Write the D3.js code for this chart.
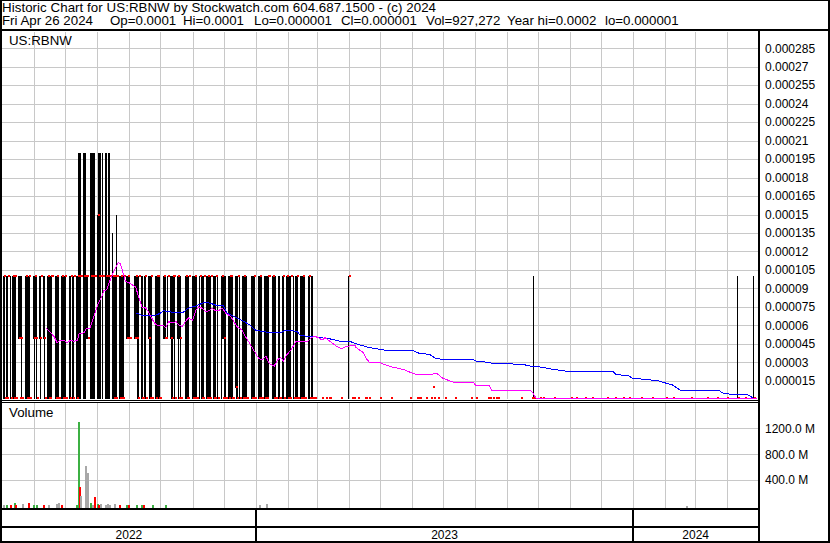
<!DOCTYPE html>
<html><head><meta charset="utf-8">
<script src="https://cdn.jsdelivr.net/npm/d3@7"></script>
<style>
body{margin:0;background:#fff}
svg{display:block}
text{font-family:Arial,"Liberation Sans",sans-serif;fill:#000}
</style></head>
<body><svg id="chart" width="830" height="543"></svg>
<script>
// ---------------- data ----------------
const titleLine = "Historic Chart for US:RBNW by Stockwatch.com 604.687.1500 - (c) 2024";
const quoteFields = ["Fri Apr 26 2024","Op=0.0001","Hi=0.0001","Lo=0.000001","Cl=0.000001","Vol=927,272","Year hi=0.0002","lo=0.000001"];
const symbolLabel = "US:RBNW";
const volumeLabel = "Volume";
const priceTicks = [0.000015,0.00003,0.000045,0.00006,0.000075,0.00009,0.000105,0.00012,0.000135,0.00015,0.000165,0.00018,0.000195,0.00021,0.000225,0.00024,0.000255,0.00027,0.000285];
const priceTickLabels = ["0.000015","0.00003","0.000045","0.00006","0.000075","0.00009","0.000105","0.00012","0.000135","0.00015","0.000165","0.00018","0.000195","0.00021","0.000225","0.00024","0.000255","0.00027","0.000285"];
const volumeTicks = [400e6,800e6,1200e6];
const volumeTickLabels = ["400.0 M","800.0 M","1200.0 M"];
const yearLabels = ["2022","2023","2024"];
const yearStarts = ["2022-05-01","2023-01-01","2024-01-01","2024-05-01"];

// daily bars, May 2 2022 .. Feb 24 2023, one row per week (Mon..Fri), prices in millionths, null = no trade
const firstMonday = "2022-05-02";
const weekHi = [
[100,100,null,100,100],[100,100,100,100,100],[100,100,100,100,null],[100,100,100,100,100],[null,100,100,100,100],
[100,100,null,100,100],[100,100,100,100,100],[null,100,100,100,100],[100,100,100,100,100],[null,100,100,100,100],
[100,100,200,200,200],[200,200,200,100,100],[200,200,200,200,200],[150,200,200,200,200],[200,200,100,200,200],
[135,100,100,100,150],[100,100,100,100,100],[100,100,100,100,null],[100,100,100,100,100],[100,100,null,100,100],
[100,100,100,100,null],[100,100,100,100,100],[100,100,100,null,100],[100,100,100,100,100],[100,100,100,100,null],
[null,100,100,100,100],[100,100,100,100,100],[100,null,100,100,100],[100,100,100,100,100],[100,100,100,null,100],
[100,100,100,100,100],[100,100,100,100,100],[100,100,100,null,100],[100,100,100,100,100],[null,100,100,100,100],
[null,100,100,100,100],[100,100,100,100,100],[null,100,100,100,100],[100,100,null,100,100],[100,100,100,100,100],
[100,null,100,100,100],[100,100,100,100,100],[null,100,100,100,100]
];
const weekLo = [
[1,1,null,1,1],[1,1,1,1,1],[50,50,50,1,null],[1,1,1,1,1],[null,50,1,50,1],
[50,1,null,50,1],[1,1,1,1,1],[null,1,1,1,1],[1,1,1,1,1],[null,1,1,1,1],
[1,1,1,1,1],[1,1,1,50,50],[1,1,1,1,1],[1,1,1,1,1],[1,1,1,1,1],
[1,1,1,1,1],[1,1,1,1,1],[50,50,50,50,null],[50,50,50,1,1],[1,1,null,1,1],
[50,1,1,1,null],[1,1,1,1,1],[50,50,50,null,50],[50,1,1,50,1],[50,1,50,1,null],
[null,1,1,1,1],[1,1,1,1,1],[1,null,1,1,1],[1,1,1,1,1],[1,1,1,null,1],
[1,50,50,1,1],[1,1,1,1,1],[10,1,1,null,1],[1,1,1,1,1],[null,1,1,1,1],
[null,1,1,1,1],[1,1,1,1,1],[null,1,1,1,1],[1,1,null,1,1],[1,1,1,1,1],
[1,null,1,1,1],[1,1,1,1,1],[null,1,1,1,1]
];
const weekClose = [
[100,1,null,1,100],[1,100,1,100,1],[50,1,50,1,null],[100,1,1,100,1],[null,50,100,50,1],
[50,100,null,50,1],[100,1,1,100,100],[null,1,100,1,1],[100,1,1,100,1],[null,1,100,1,100],
[1,100,100,100,100],[100,100,100,100,50],[100,100,100,100,100],[150,100,100,100,100],[100,100,100,100,100],
[100,1,100,1,100],[1,100,1,1,100],[50,100,50,50,null],[50,100,50,1,100],[1,1,null,100,1],
[50,1,100,1,null],[1,100,100,1,1],[100,50,50,null,100],[50,1,100,100,1],[100,1,50,1,null],
[null,100,1,1,100],[1,1,100,1,1],[100,null,1,1,100],[1,100,1,1,100],[1,1,100,null,1],
[100,1,50,1,1],[1,100,100,1,1],[10,1,100,null,1],[1,100,1,1,1],[null,1,1,100,1],
[null,1,100,1,1],[1,1,1,100,100],[null,100,1,1,1],[1,1,null,100,1],[100,1,1,1,100],
[1,null,1,100,1],[1,1,100,1,1],[null,100,1,1,1]
];

// later, scattered trades (prices in millionths)
const laterDates = ["2023-02-27","2023-03-06","2023-03-10","2023-03-13","2023-03-14","2023-03-24","2023-03-31","2023-04-04","2023-04-06","2023-04-10","2023-04-17","2023-04-18","2023-04-21","2023-05-01","2023-05-12","2023-05-30","2023-06-06","2023-06-08","2023-06-09","2023-06-15","2023-06-19","2023-06-21","2023-06-22","2023-06-26","2023-07-03","2023-07-13","2023-07-28","2023-08-02","2023-08-14","2023-08-15","2023-08-18","2023-08-21","2023-08-23","2023-09-14","2023-09-25","2023-09-26","2023-10-03","2023-10-06","2023-10-16","2023-11-02","2023-11-07","2023-11-15","2023-11-22","2023-12-07","2023-12-14","2023-12-22","2023-12-28","2024-01-08","2024-01-19","2024-02-02","2024-02-08","2024-02-26","2024-03-12","2024-03-22","2024-04-01","2024-04-10","2024-04-18","2024-04-26"];
const laterHi =    [1,1,1,1,1,1,100,1,1,1,1,1,1,1,1,1,1,1,1,1,1,10,1,1,1,1,1,1,1,1,1,1,1,1,1,100,1,1,1,1,1,1,1,1,1,1,1,1,1,1,1,1,1,1,1,100,1,100];
const laterLo =    [1,1,1,1,1,1,1,1,1,1,1,1,1,1,1,1,1,1,1,1,1,10,1,1,1,1,1,1,1,1,1,1,1,1,1,1,1,1,1,1,1,1,1,1,1,1,1,1,1,1,1,1,1,1,1,1,1,1];
const laterClose = [1,1,1,1,1,1,100,1,1,1,1,1,1,1,1,1,1,1,1,1,1,10,1,1,1,1,1,1,1,1,1,1,1,1,1,1,1,1,1,1,1,1,1,1,1,1,1,1,1,1,1,1,1,1,1,1,1,1];

// volume (millions) and day direction: 1 up (green), -1 down (red), 0 unchanged (grey)
const volDates = ["2022-05-02","2022-05-05","2022-05-09","2022-05-12","2022-05-13","2022-05-20","2022-05-26","2022-05-31","2022-06-03","2022-06-09","2022-06-14","2022-06-22","2022-06-24","2022-06-27","2022-07-11","2022-07-13","2022-07-14","2022-07-15","2022-07-20","2022-07-21","2022-07-22","2022-07-25","2022-07-27","2022-07-29","2022-08-01","2022-08-02","2022-08-04","2022-08-08","2022-08-10","2022-08-12","2022-08-17","2022-08-22","2022-08-29","2022-08-31","2022-09-07","2022-09-12","2022-09-14","2022-09-23","2022-10-05","2023-01-04","2023-01-11","2024-02-21"];
const volM =   [12,20,10,50,10,30,50,8,8,8,12,30,50,8,20,1300,290,150,620,150,510,50,20,143,30,20,30,12,25,15,25,10,15,10,12,10,8,10,8,8,25,5];
const volDir = [0,1,-1,1,-1,0,-1,1,1,-1,0,0,0,-1,1,1,-1,0,0,0,0,1,0,-1,1,-1,0,0,0,0,0,-1,1,-1,1,1,-1,1,1,0,0,0];

// moving averages: day offset from 2022-05-01, price in millionths
const maStart = "2022-05-01";
const shortMaDay = [42,46,50,53,56,59,63,66,69,73,74,79,81,85,87,90,93,97,98,101,103,106,109,112,114,116,119,124,129,132,135,139,142,147,150,156,158,161,164,168,171,174,177,180,184,187,190,193,197,200,203,206,209,213,216,221,224,227,232,235,238,243,248,251,255,258,263,266,269,272,275,279,282,284,295,299,302,306,309,312,317,323,328,333,341,342,349,352,355,365,370,378,389,394,401,413,420,426,436,455,458,471,473,510,513,516,730];
const shortMaVal = [58,55,51,46,48,48,46,48,47,48,53,54,57,58,63,71,78,85,88,89,94,100,106,111,110,105,96,94,91,83,75,74,70,62,60,60,58,63,62,63,60,59,63,66,64,72,75,74,71,72,74,72,72,74,70,67,63,59,56,51,47,40,33,32,35,29,27,32,34,31,36,40,44,47,47,50,51,50,48,50,47,43,41,43,44,42,38,33,30,30,28,26,24,22,20,20,21,17,14,14,11,11,7.5,7.5,5,1,1];
const longMaDay = [130,135,148,153,156,161,174,180,188,196,201,208,214,217,222,227,234,240,245,253,259,269,274,279,285,288,295,301,308,317,327,336,346,355,365,371,397,403,413,419,426,455,458,465,474,503,510,519,532,545,590,593,606,609,622,635,640,648,655,692,697,710,721,726,729];
const longMaVal = [70,68,68,70,72,71,70,74,76,79,78,76,76,70,68,66,63,60,56,55,54,54,56,56,55,52,51,51,50,49,47,47,44,42,40.5,39.7,39.7,37.3,36.5,33.2,32.4,32.4,31.1,30.5,29.2,28.4,27,26.4,24.3,22.9,22.9,20.3,18.9,17,16.2,14.8,13.5,11.6,7.5,7.5,4.9,3.5,3.5,1,0.3];

// ---------------- chart ----------------
const W = 830, H = 543;
const svg = d3.select("#chart").attr("shape-rendering","crispEdges");
const U = 1e-6;
const parse = d3.utcParse("%Y-%m-%d");
const dayMs = 86400000;

const plotL = 2, plotR = 758, priceTop = 30, priceBot = 400, volTop = 402, volBot = 508;
const x = d3.scaleUtc().domain([parse(yearStarts[0]), parse(yearStarts[3])]).range([2.2, 758.5]);
const y = d3.scaleLinear().domain([0, 0.0003]).range([399.3, 29.7]);
const yv = d3.scaleLinear().domain([0, 1.6e9]).range([505.9, 402.5]);

svg.append("rect").attr("width",W).attr("height",H).attr("fill","#fff");

// gridlines
const grid = svg.append("g").attr("stroke","#c8c8c8").attr("stroke-width",1);
const months = d3.utcMonth.range(parse(yearStarts[0]), parse(yearStarts[3])).slice(1);
months.forEach(m => {
  const xx = Math.round(x(m)) + 0.5;
  grid.append("line").attr("x1",xx).attr("x2",xx).attr("y1",priceTop+2).attr("y2",priceBot-1);
  grid.append("line").attr("x1",xx).attr("x2",xx).attr("y1",volTop+1).attr("y2",volBot);
});
priceTicks.forEach(t => {
  const yy = Math.round(y(t)) + 0.5;
  grid.append("line").attr("x1",plotL).attr("x2",plotR).attr("y1",yy).attr("y2",yy);
});
volumeTicks.forEach(t => {
  const yy = Math.round(yv(t)) + 0.5;
  grid.append("line").attr("x1",plotL).attr("x2",plotR).attr("y1",yy).attr("y2",yy);
});

// build daily records
const bars = [];
const mon0 = parse(firstMonday);
weekHi.forEach((row, w) => row.forEach((hi, k) => {
  if (hi == null) return;
  bars.push({date: new Date(+mon0 + (7*w + k)*dayMs), hi: hi*U, lo: weekLo[w][k]*U, close: weekClose[w][k]*U});
}));
laterDates.forEach((ds, i) => bars.push({date: parse(ds), hi: laterHi[i]*U, lo: laterLo[i]*U, close: laterClose[i]*U}));

const px = d => Math.round(x(d));
const barG = svg.append("g");
barG.selectAll("rect").data(bars).join("rect")
  .attr("x", d => px(d.date)).attr("width", 1)
  .attr("y", d => Math.round(y(d.hi)))
  .attr("height", d => Math.max(1, Math.round(y(d.lo)) - Math.round(y(d.hi)) + 1))
  .attr("fill", "#000");
const tickG = svg.append("g");
tickG.selectAll("rect").data(bars).join("rect")
  .attr("x", d => px(d.date) + (d.hi > d.lo ? 1 : 0)).attr("width", 2)
  .attr("y", d => Math.round(y(d.close)) - 1).attr("height", 2)
  .attr("fill", "#ff0000");

// moving averages
const ma0 = parse(maStart);
const line = d3.line().x(d => x(d[0])).y(d => y(d[1]));
const shortMa = shortMaDay.map((d, i) => [new Date(+ma0 + d*dayMs), shortMaVal[i]*U]);
const longMa = longMaDay.map((d, i) => [new Date(+ma0 + d*dayMs), longMaVal[i]*U]);
svg.append("path").attr("d", line(longMa)).attr("fill","none").attr("stroke","#0000ff").attr("stroke-width",1);
svg.append("path").attr("d", line(shortMa)).attr("fill","none").attr("stroke","#ff00ff").attr("stroke-width",1);

// volume bars (drawn from the panel floor)
const volColor = v => v > 0 ? "#3cb043" : (v < 0 ? "#ff0000" : "#a8a8a8");
svg.append("g").selectAll("rect").data(volDates.map((d,i)=>({date:parse(d), v:volM[i]*1e6, dir:volDir[i]}))).join("rect")
  .attr("x", d => px(d.date)).attr("width", 2)
  .attr("y", d => Math.min(volBot-1, Math.round(yv(d.v))))
  .attr("height", d => volBot - Math.min(volBot-1, Math.round(yv(d.v))))
  .attr("fill", d => volColor(d.dir));

// frame lines
const frame = svg.append("g").attr("fill","#000");
const R = (x0,y0,w,h) => frame.append("rect").attr("x",x0).attr("y",y0).attr("width",w).attr("height",h);
R(0,0,W,1); R(0,29,W,2); R(0,0,2,H); R(W-2,0,2,H); R(0,H-2,W,2);
R(plotR,29,2,H-29);
R(0,priceBot,plotR,1); R(0,volTop,plotR,1);
R(0,volBot,plotR,2); R(0,526,plotR,2);
[yearStarts[1], yearStarts[2]].forEach(s => R(Math.round(x(parse(s)))-1, volBot, 2, H-volBot));

// axes
const yAxis = d3.axisRight(y).tickValues(priceTicks).tickFormat((d,i)=>priceTickLabels[i]).tickSize(0).tickPadding(5);
const ya = svg.append("g").attr("transform",`translate(${plotR+2},0)`).call(yAxis);
const vAxis = d3.axisRight(yv).tickValues(volumeTicks).tickFormat((d,i)=>volumeTickLabels[i]).tickSize(0).tickPadding(5);
const va = svg.append("g").attr("transform",`translate(${plotR+2},0)`).call(vAxis);
[ya, va].forEach(g => { g.select(".domain").remove(); g.selectAll("text").attr("font-size",12).attr("font-family","Arial, 'Liberation Sans', sans-serif").attr("fill","#000"); });

// year labels
yearLabels.forEach((lab, i) => {
  const a = Math.max(plotL, x(parse(yearStarts[i]))), b = Math.min(plotR, x(parse(yearStarts[i+1])));
  svg.append("text").attr("x",(a+b)/2).attr("y",539).attr("text-anchor","middle").attr("font-size",12).text(lab);
});

// texts
svg.append("text").attr("x",2).attr("y",11.5).attr("font-size",13.3).attr("textLength",434).attr("lengthAdjust","spacing").text(titleLine);
const fieldX = [2,110,183,254,341,426,507,605];
quoteFields.forEach((f,i) => svg.append("text").attr("x",fieldX[i]).attr("y",25).attr("font-size",13.3).text(f));
svg.append("text").attr("x",9).attr("y",45).attr("font-size",13.3).text(symbolLabel);
svg.append("text").attr("x",9).attr("y",417).attr("font-size",13.3).text(volumeLabel);
</script></body></html>
